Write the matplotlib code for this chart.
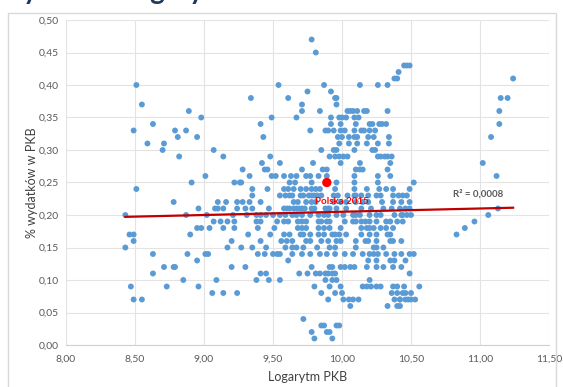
import numpy as np
import matplotlib
matplotlib.use("Agg")
import matplotlib.pyplot as plt
from matplotlib.ticker import FuncFormatter, MultipleLocator
from matplotlib.patches import Rectangle

# --- data (log GDP vs. share of spending in GDP) ---
# poorer countries, log GDP below ~9.3
x_left = [8.51, 8.55, 8.63, 8.49, 8.59, 8.70, 8.71, 8.89, 8.98, 8.79, 8.81, 8.87, 8.95, 8.82,
          9.07, 9.14, 9.01, 8.91, 9.22, 9.26, 8.51,
          8.78, 8.43, 8.87, 8.96, 9.02, 9.10, 9.16, 9.08, 9.10, 9.14, 9.24, 9.24, 9.07, 9.12, 9.17,
          8.95, 8.98, 9.04, 9.14, 9.22, 8.46, 8.49, 8.90, 8.49, 9.20, 8.43, 9.17, 8.63, 8.88, 9.01,
          9.03, 8.95, 8.71, 8.78, 8.79, 9.20, 8.63, 8.85, 9.09, 8.47, 8.73, 8.96, 9.06, 9.14, 9.24,
          8.49, 8.55]
y_left = [0.40, 0.37, 0.34, 0.33, 0.31, 0.30, 0.31, 0.36, 0.35, 0.33, 0.32, 0.33, 0.32, 0.29,
          0.30, 0.29, 0.26, 0.25, 0.25, 0.25, 0.24,
          0.22, 0.20, 0.20, 0.21, 0.20, 0.22, 0.22, 0.21, 0.21, 0.21, 0.22, 0.21, 0.19, 0.19, 0.19,
          0.18, 0.18, 0.18, 0.18, 0.18, 0.17, 0.17, 0.17, 0.16, 0.16, 0.15, 0.15, 0.14, 0.14, 0.14,
          0.14, 0.13, 0.12, 0.12, 0.12, 0.12, 0.11, 0.10, 0.10, 0.09, 0.09, 0.09, 0.08, 0.08, 0.08,
          0.07, 0.07]

# middle group, upper half
x_mid_hi = [9.78, 9.81, 10.45, 10.47, 10.41, 10.38, 10.40,
            9.54, 9.87, 10.13, 10.26, 10.33,
            9.34, 9.61, 9.75, 9.92, 9.95, 9.96,
            9.71, 9.96,
            9.71, 9.84, 10.04, 10.06, 10.08, 10.11, 10.16, 10.18, 10.33,
            9.49, 9.67, 9.92, 9.98, 10.00, 10.03, 10.09, 10.12,
            9.41, 9.92, 9.99, 10.10, 10.20, 10.22, 10.27, 10.29, 10.32,
            9.77, 9.88, 9.90, 9.94, 9.99, 10.02, 10.09, 10.14, 10.16, 10.20, 10.24,
            9.43, 9.97, 10.00, 10.05, 10.09, 10.11, 10.19, 10.23, 10.34,
            9.98, 10.05, 10.11, 10.18, 10.26, 10.34,
            9.85, 9.94, 9.96, 10.09, 10.22, 10.24,
            9.48, 9.91, 9.95, 9.98, 10.01, 10.04, 10.26, 10.28, 10.31, 10.33, 10.36,
            9.42, 9.55, 9.79, 9.99, 10.13, 10.35,
            9.28, 9.44, 9.46, 9.71, 9.86, 9.89, 10.10, 10.13, 10.15, 10.33,
            9.33, 9.49, 9.52, 9.58, 9.63, 9.67, 9.74, 9.77, 9.83, 9.89, 10.09, 10.26, 10.35,
            9.27, 9.62, 9.66, 9.78, 9.96, 10.09, 10.26,
            9.35, 9.46, 9.58, 9.61, 9.65, 9.70, 9.74, 9.78, 9.81, 9.84, 9.95, 10.09, 10.18, 10.27,
            10.32, 10.37]
y_mid_hi = [0.47, 0.45, 0.43, 0.43, 0.42, 0.41, 0.41,
            0.40, 0.40, 0.40, 0.40, 0.40,
            0.38, 0.38, 0.39, 0.39, 0.38, 0.38,
            0.37, 0.37,
            0.36, 0.36, 0.36, 0.36, 0.36, 0.36, 0.36, 0.36, 0.36,
            0.35, 0.35, 0.35, 0.35, 0.35, 0.35, 0.35, 0.35,
            0.34, 0.34, 0.34, 0.34, 0.34, 0.34, 0.34, 0.34, 0.34,
            0.33, 0.33, 0.33, 0.33, 0.33, 0.33, 0.33, 0.33, 0.33, 0.33, 0.33,
            0.32, 0.32, 0.32, 0.32, 0.32, 0.32, 0.32, 0.32, 0.32,
            0.31, 0.31, 0.31, 0.31, 0.31, 0.31,
            0.30, 0.30, 0.30, 0.30, 0.30, 0.30,
            0.29, 0.29, 0.29, 0.29, 0.29, 0.29, 0.29, 0.29, 0.29, 0.29, 0.29,
            0.28, 0.28, 0.28, 0.28, 0.28, 0.28,
            0.27, 0.27, 0.27, 0.27, 0.27, 0.27, 0.27, 0.27, 0.27, 0.27,
            0.26, 0.26, 0.26, 0.26, 0.26, 0.26, 0.26, 0.26, 0.26, 0.26, 0.26, 0.26, 0.26,
            0.25, 0.25, 0.25, 0.25, 0.25, 0.25, 0.25,
            0.24, 0.24, 0.24, 0.24, 0.24, 0.24, 0.24, 0.24, 0.24, 0.24, 0.24, 0.24, 0.24, 0.24,
            0.24, 0.24]

# middle group, lower half (one list of log GDP values per spending level)
x_023 = [9.35, 9.55, 9.59, 9.62, 9.64, 9.70, 9.72, 9.76, 9.78, 9.80, 9.82, 9.85, 9.94, 9.97,
         10.04, 10.09, 10.10, 10.14, 10.19, 10.25, 10.28, 10.37, 10.41, 10.44]
x_022 = [9.28, 9.33, 9.41, 9.65, 9.68, 9.74, 9.78, 9.81, 9.94, 9.99, 10.03, 10.10, 10.15,
         10.19, 10.29, 10.37, 10.49]
x_021 = [9.30, 9.35, 9.47, 9.58, 9.60, 9.62, 9.65, 9.67, 9.69, 9.71, 9.73, 9.78, 9.80, 9.88,
         9.90, 9.91, 9.96, 10.03, 10.14, 10.21, 10.30, 10.36, 10.42]
x_020 = [9.21, 9.31, 9.38, 9.41, 9.45, 9.50, 9.55, 9.59, 9.64, 9.67, 9.71, 9.77, 9.83, 9.87,
         9.90, 9.96, 10.01, 10.08, 10.10, 10.13, 10.20, 10.25, 10.28, 10.38, 10.44, 10.47]
x_019 = [9.22, 9.38, 9.41, 9.53, 9.58, 9.61, 9.68, 9.71, 9.74, 9.83, 9.85, 9.89, 9.91, 10.02,
         10.08, 10.10, 10.14, 10.17, 10.20, 10.25, 10.32, 10.35, 10.40]
x_018 = [9.39, 9.51, 9.68, 9.71, 9.74, 9.83, 9.87, 9.91, 9.99, 10.14, 10.18, 10.20, 10.23,
         10.28, 10.32, 10.37]
x_017 = [9.32, 9.48, 9.58, 9.62, 9.70, 9.72, 9.77, 9.83, 9.87, 9.93, 9.95, 9.98, 10.03, 10.14,
         10.20, 10.25, 10.33, 10.35]
x_016 = [9.41, 9.56, 9.60, 9.64, 9.74, 9.77, 9.85, 9.90, 9.96, 9.99, 10.10, 10.17, 10.19,
         10.25, 10.35, 10.37]
x_015 = [9.27, 9.35, 9.45, 9.59, 9.64, 9.67, 9.72, 9.82, 9.91, 9.95, 10.10, 10.23, 10.25, 10.30]
x_014 = [9.39, 9.44, 9.50, 9.53, 9.55, 9.64, 9.71, 9.77, 9.84, 9.89, 9.95, 10.02, 10.08,
         10.15, 10.20, 10.23, 10.26, 10.32, 10.38]
x_013 = [9.61, 10.19, 10.25, 10.35, 10.38]
x_012 = [9.30, 9.78, 9.91, 9.93, 9.99, 10.02, 10.06, 10.09, 10.18, 10.25, 10.30, 10.37]
x_011 = [9.41, 9.45, 9.69, 9.75, 9.81, 9.84, 9.88, 9.90, 9.93, 9.95]
x_010 = [9.38, 9.47, 9.55, 9.88, 9.93, 9.96, 10.20]
x_009 = [9.80, 9.91, 9.99, 10.15, 10.18, 10.21, 10.25, 10.28, 10.37, 10.40]
x_008 = [9.85, 9.95, 10.00, 10.36, 10.40]
x_007 = [9.90, 10.01, 10.05, 10.08, 10.12, 10.38, 10.42]
x_006 = [10.06, 10.33, 10.40]
x_004 = [9.72]
x_003 = [9.85, 9.87, 9.96, 9.98]
x_002 = [9.78, 9.89, 9.91]
x_001 = [9.80, 9.93]

# richest countries, log GDP above ~10.4
x_right = [10.49, 11.24, 11.15, 11.20, 11.14, 11.14, 11.08, 11.02, 11.12, 10.52, 10.49, 10.47,
           10.43, 10.49, 10.46, 11.13, 11.06, 10.50, 10.43, 10.44, 10.96, 10.89, 10.83, 10.43,
           10.49, 10.52, 10.43, 10.46, 10.43, 10.49, 10.45, 10.56, 10.44, 10.46, 10.50,
           10.42, 10.46, 10.48, 10.50, 10.53, 10.42]
y_right = [0.43, 0.41, 0.38, 0.38, 0.36, 0.34, 0.32, 0.28, 0.26, 0.25, 0.24, 0.23,
           0.22, 0.21, 0.21, 0.21, 0.20, 0.20, 0.20, 0.19, 0.19, 0.18, 0.17, 0.16,
           0.14, 0.14, 0.14, 0.13, 0.12, 0.11, 0.09, 0.09, 0.08, 0.08, 0.08,
           0.07, 0.07, 0.07, 0.07, 0.07, 0.06]

# Poland 2015 and the Excel linear trend line
poland_x, poland_y = 9.89, 0.25
trend_slope, trend_intercept = 0.005, 0.155
r2_label = "R² = 0,0008"

# collect the lower rows into flat arrays
low_rows = [(x_023, 0.23), (x_022, 0.22), (x_021, 0.21), (x_020, 0.20), (x_019, 0.19),
            (x_018, 0.18), (x_017, 0.17), (x_016, 0.16), (x_015, 0.15), (x_014, 0.14),
            (x_013, 0.13), (x_012, 0.12), (x_011, 0.11), (x_010, 0.10), (x_009, 0.09),
            (x_008, 0.08), (x_007, 0.07), (x_006, 0.06), (x_004, 0.04), (x_003, 0.03),
            (x_002, 0.02), (x_001, 0.01)]
x_mid_lo = [v for xs, _ in low_rows for v in xs]
y_mid_lo = [lvl for xs, lvl in low_rows for _ in xs]

xs = np.array(x_left + x_mid_hi + x_mid_lo + x_right)
ys = np.array(y_left + y_mid_hi + y_mid_lo + y_right)

plt.rcParams["font.family"] = ["Lato", "DejaVu Sans"]

fig = plt.figure(figsize=(5.63, 3.87), dpi=100)
ax = fig.add_axes([66 / 563, 42 / 387, 483 / 563, 325 / 387])

# frame around the chart area and the heading cut off at the top edge
fig.patches.append(Rectangle((8 / 563, -0.01), 548 / 563, 1 - 13 / 387 + 0.01,
                             transform=fig.transFigure, fill=False,
                             edgecolor="#d9d9d9", linewidth=1.0))
fig.text(-0.01, 1 + 1 / 387, "Wydatki a logarytm PKB", fontsize=20, fontweight="bold",
         color="#1f3864", va="baseline", ha="left")

ax.scatter(xs, ys, s=18, color="#5b9bd5", edgecolors="none", zorder=3)

tx = np.array([xs.min(), xs.max()])
ax.plot(tx, trend_slope * tx + trend_intercept, color="#c00000", linewidth=1.6, zorder=4)

ax.scatter([poland_x], [poland_y], s=45, color="#ff0000", edgecolors="none", zorder=5)
ax.text(10.00, 0.2215, "Polska 2015", color="#ff0000", fontsize=7, fontweight="bold",
        ha="center", va="center", zorder=6)
ax.text(10.99, 0.233, r2_label, color="#595959", fontsize=7, fontweight="bold",
        ha="center", va="center", zorder=6)

ax.set_xlim(8.0, 11.5)
ax.set_ylim(0.0, 0.5)
ax.xaxis.set_major_locator(MultipleLocator(0.5))
ax.yaxis.set_major_locator(MultipleLocator(0.05))
comma = FuncFormatter(lambda v, p: f"{v:.2f}".replace(".", ","))
ax.xaxis.set_major_formatter(comma)
ax.yaxis.set_major_formatter(comma)

ax.grid(True, color="#e3e3e3", linewidth=0.8, zorder=0)
ax.set_axisbelow(True)
for side in ["top", "right", "left"]:
    ax.spines[side].set_visible(False)
ax.spines["bottom"].set_color("#d0d0d0")
ax.tick_params(axis="x", length=0, labelsize=7.5, labelcolor="#595959", pad=7)
ax.tick_params(axis="y", length=0, labelsize=7.5, labelcolor="#595959", pad=5)

ax.set_xlabel("Logarytm PKB", fontsize=9, color="#404040")
ax.set_ylabel("% wydatków w PKB", fontsize=9, color="#404040")
ax.xaxis.label.set_va("center")
ax.yaxis.label.set_va("center")
ax.xaxis.set_label_coords(0.5, -32 / 325)
ax.yaxis.set_label_coords(-34 / 483, 0.5)

fig.savefig("out.png", dpi=100)
